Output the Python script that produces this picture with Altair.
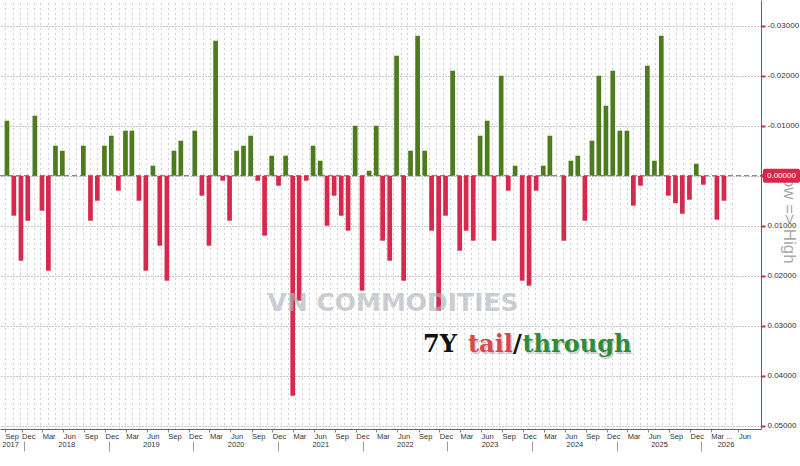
import altair as alt
import pandas as pd

# ---------------- data ----------------
auction_months = [
    "2017-09", "2017-10", "2017-11", "2017-12",
    "2018-01", "2018-02", "2018-03", "2018-04", "2018-05", "2018-06",
    "2018-07", "2018-08", "2018-09", "2018-10", "2018-11", "2018-12",
    "2019-01", "2019-02", "2019-03", "2019-04", "2019-05", "2019-06",
    "2019-07", "2019-08", "2019-09", "2019-10", "2019-11", "2019-12",
    "2020-01", "2020-02", "2020-03", "2020-04", "2020-05", "2020-06",
    "2020-07", "2020-08", "2020-09", "2020-10", "2020-11", "2020-12",
    "2021-01", "2021-02", "2021-03", "2021-04", "2021-05", "2021-06",
    "2021-07", "2021-08", "2021-09", "2021-10", "2021-11", "2021-12",
    "2022-01", "2022-02", "2022-03", "2022-04", "2022-05", "2022-06",
    "2022-07", "2022-08", "2022-09", "2022-10", "2022-11", "2022-12",
    "2023-01", "2023-02", "2023-03", "2023-04", "2023-05", "2023-06",
    "2023-07", "2023-08", "2023-09", "2023-10", "2023-11", "2023-12",
    "2024-01", "2024-02", "2024-03", "2024-04", "2024-05", "2024-06",
    "2024-07", "2024-08", "2024-09", "2024-10", "2024-11", "2024-12",
    "2025-01", "2025-02", "2025-03", "2025-04", "2025-05", "2025-06",
    "2025-07", "2025-08", "2025-09", "2025-10", "2025-11", "2025-12",
    "2026-01", "2026-02", "2026-03", "2026-04",
]

# positive = tail (red, drawn downward), negative = through (green, drawn upward)
tail_through = [
    -0.011, 0.008, 0.017, 0.009,
    -0.012, 0.007, 0.019, -0.006, -0.005, 0.0,
    0.0, -0.006, 0.009, 0.005, -0.006, -0.008,
    0.003, -0.009, -0.009, 0.005, 0.019, -0.002,
    0.014, 0.021, -0.005, -0.007, 0.0, -0.009,
    0.004, 0.014, -0.027, 0.001, 0.009, -0.005,
    -0.006, -0.008, 0.001, 0.012, -0.004, 0.002,
    -0.004, 0.044, 0.025, 0.001, -0.006, -0.003,
    0.010, 0.004, 0.008, 0.011, -0.010, 0.023,
    -0.001, -0.010, 0.013, 0.017, -0.024, 0.021,
    -0.005, -0.028, -0.005, 0.011, 0.027, 0.008,
    -0.021, 0.015, 0.011, 0.013, -0.008, -0.011,
    0.013, -0.020, 0.003, -0.002, 0.021, 0.022,
    0.003, -0.002, -0.008, 0.0, 0.013, -0.003,
    -0.004, 0.009, -0.007, -0.020, -0.014, -0.021,
    -0.009, -0.009, 0.006, 0.002, -0.022, -0.003,
    -0.028, 0.004, 0.0055, 0.0076, 0.0048, -0.0024,
    0.0018, 0.0, 0.0088, 0.005,
]

y_ticks = [-0.03, -0.02, -0.01, 0.0, 0.01, 0.02, 0.03, 0.04, 0.05]
year_separators = ["2018-01-01", "2019-01-01", "2020-01-01", "2021-01-01", "2022-01-01",
                   "2023-01-01", "2024-01-01", "2025-01-01", "2026-01-01"]
year_label_pos = ["2017-11-02", "2018-07-02", "2019-07-02", "2020-07-02", "2021-07-02",
                  "2022-07-02", "2023-07-02", "2024-07-02", "2025-07-02", "2026-04-15"]

df = pd.DataFrame({"date": [m + "-28" for m in auction_months], "value": tail_through})


def ms(s):
    return int(pd.Timestamp(s, tz="UTC").value // 10**6)


x_domain = [ms("2017-09-19T10:00"), ms("2026-09-15")]
month_label_vals = [ms("2017-09-19T11:00")]
for y in range(2017, 2027):
    for m in (3, 6, 9, 12):
        d = pd.Timestamp(year=y, month=m, day=1, tz="UTC")
        t = int(d.value // 10**6)
        if ms("2017-11-30") < t < ms("2026-06-01"):
            month_label_vals.append(t)
month_label_vals.append(ms("2026-06-30"))
grid_vals = [int(d.value // 10**6) for d in pd.date_range("2017-10-01", "2026-05-01", freq="MS", tz="UTC") + pd.Timedelta(days=12)]

FONT = "Liberation Sans"
RED = "#d6294d"
GREEN = "#4d7c1c"

xscale = alt.Scale(type="utc", domain=x_domain, nice=False)
yscale = alt.Scale(domain=[-0.03514, 0.05066], reverse=True, nice=False, zero=False)

y_axis = alt.Axis(
    orient="right", values=y_ticks, title=None,
    labelExpr="datum.value == 0 ? '' : (datum.value < 0 ? '-' + format(-datum.value, '.5f') : format(datum.value, '.5f'))",
    grid=True, gridColor="#8c8c8c", gridDash=[1, 2], gridWidth=1,
    domainColor="#8a5060", domainWidth=1,
    tickColor="#c8304a", tickSize=4, tickWidth=2,
    labelFont=FONT, labelFontSize=8, labelColor="#333333", labelPadding=2,
)

month_axis = alt.Axis(
    orient="bottom", values=month_label_vals, title=None, grid=False,
    labelExpr="utcyear(datum.value) == 2026 && utcmonth(datum.value) == 2 ? 'Mar ...' : utcFormat(datum.value, '%b')",
    labelAlign="left", labelOverlap=False, labelFlush=False,
    domainColor="#666666", tickColor="#888888", tickSize=3,
    labelFont=FONT, labelFontSize=7.5, labelColor="#333333", labelPadding=0,
)
grid_axis = alt.Axis(
    orient="bottom", values=grid_vals, title=None, grid=True, gridDash=[1, 4],
    gridColor="#a0a0a0", gridWidth=1, labels=False, ticks=False, domain=False,
)
year_axis = alt.Axis(
    orient="bottom", values=[ms(s) for s in year_label_pos], title=None, grid=False,
    labelExpr="utcFormat(datum.value, '%Y')", ticks=False, domain=False, offset=11,
    labelOverlap=False, labelFont=FONT, labelFontSize=7.5, labelColor="#333333", labelPadding=0,
)
sep_axis = alt.Axis(
    orient="bottom", values=[ms(s) for s in year_separators], title=None, grid=False,
    labels=False, domain=False, ticks=True, tickSize=10, tickColor="#999999", offset=12,
)

base = alt.Chart(df)
Y = alt.Y("value:Q", scale=yscale, axis=y_axis)

grid_layer = base.mark_point(opacity=0).encode(x=alt.X("date:T", scale=xscale, axis=grid_axis), y=Y)
sep_layer = base.mark_point(opacity=0).encode(x=alt.X("date:T", scale=xscale, axis=sep_axis), y=Y)
year_layer = base.mark_point(opacity=0).encode(x=alt.X("date:T", scale=xscale, axis=year_axis), y=Y)

one = pd.DataFrame({"k": [0]})

zero_line = alt.Chart(one).mark_rule(color="#707070", strokeDash=[5, 3], strokeWidth=1).encode(
    y=alt.datum(0), x=alt.value(0), x2=alt.value(761)
)

bars = base.mark_bar(size=4.7).encode(
    x=alt.X("date:T", scale=xscale, axis=month_axis),
    y=alt.Y("value:Q", scale=yscale, axis=y_axis, stack=None),
    y2=alt.datum(0),
    color=alt.condition(alt.datum.value > 0, alt.value(RED), alt.value(GREEN)),
)

watermark = alt.Chart(one).mark_text(
    text="VN COMMODITIES", font="DejaVu Sans", fontWeight="bold", fontSize=25,
    color="#b0b5bc", opacity=0.65, align="center", baseline="alphabetic",
).encode(x=alt.value(393), y=alt.value(311))


def word(txt, x, color, dx=0, dy=0, opacity=1.0):
    return alt.Chart(one).mark_text(
        text=txt, font="DejaVu Serif", fontWeight="bold", fontSize=24, color=color,
        opacity=opacity, align="left", baseline="alphabetic",
    ).encode(x=alt.value(x + dx), y=alt.value(352 + dy))


title_parts = [
    word("tail", 468, "#777777", 1.5, 1.5, 0.35),
    word("through", 522.5, "#777777", 1.5, 1.5, 0.35),
    word("7Y", 423, "#111111"),
    word("tail", 468, "#d9464d"),
    word("/", 513, "#111111"),
    word("through", 522.5, "#2f8b3b"),
]

low_high = alt.Chart(one).mark_text(
    text="Low => High", font=FONT, fontSize=17, color="#aaaaaa", angle=90,
    align="center", baseline="middle",
).encode(x=alt.value(789), y=alt.value(216))

zero_box = alt.Chart(one).mark_rect(color="#d9264a", cornerRadius=2).encode(
    x=alt.value(763), x2=alt.value(800), y=alt.datum(-0.0014), y2=alt.datum(0.0014)
)
zero_arrow = alt.Chart(one).mark_point(shape="triangle-left", filled=True, size=30, color="#d9264a", opacity=1).encode(
    x=alt.value(762), y=alt.datum(0)
)
zero_text = alt.Chart(one).mark_text(
    text="0.00000", font=FONT, fontSize=8, color="white", align="left", baseline="middle"
).encode(x=alt.value(767), y=alt.datum(0))

chart = alt.layer(
    grid_layer, sep_layer, year_layer, zero_line, bars, watermark, *title_parts,
    low_high, zero_box, zero_arrow, zero_text,
).resolve_scale(x="independent").properties(
    width=761, height=429,
    padding={"left": 0, "top": 0, "right": 39, "bottom": 37},
    autosize=alt.AutoSizeParams(type="none"),
    background="white",
).configure_view(strokeWidth=0)

chart.save("out.html", embed_options={"renderer": "svg", "actions": False})
